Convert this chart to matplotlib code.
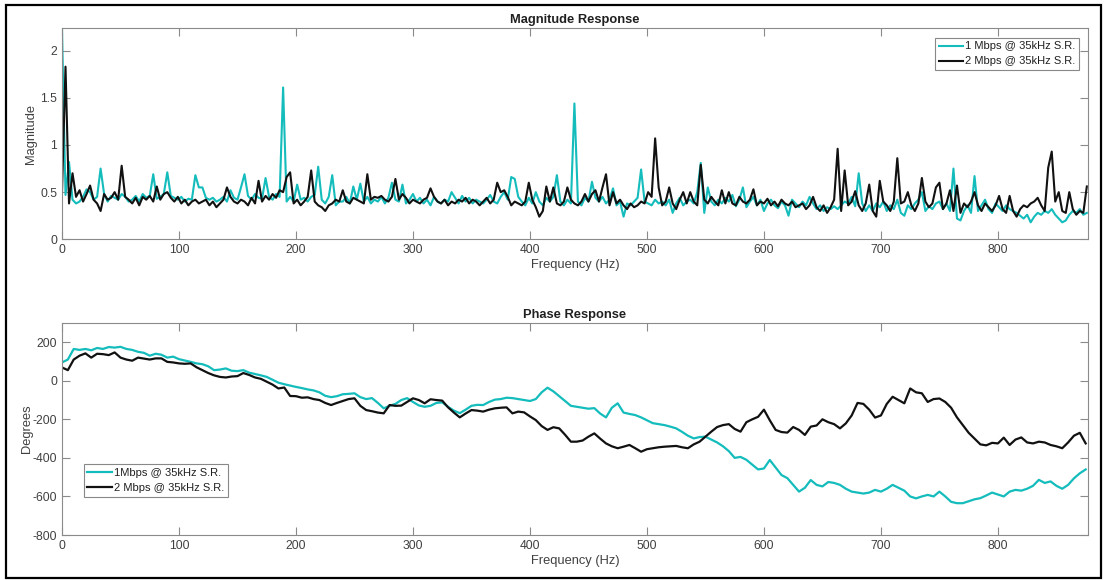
import numpy as np
import matplotlib
matplotlib.use("Agg")
import matplotlib.pyplot as plt
from matplotlib.patches import Rectangle
from matplotlib.ticker import FuncFormatter

plt.rcParams['font.family'] = ['Liberation Sans', 'DejaVu Sans']
plt.rcParams['axes.unicode_minus'] = False

# ---------------- data ----------------
mag_freq = np.arange(0, 877, 3)  # Hz

mag_1mbps = [
    2.22, 0.47, 0.82, 0.42, 0.38, 0.40, 0.45, 0.53, 0.50, 0.42,
    0.45, 0.75, 0.48, 0.40, 0.46, 0.44, 0.42, 0.48, 0.45, 0.40,
    0.42, 0.46, 0.40, 0.48, 0.44, 0.46, 0.69, 0.43, 0.45, 0.48,
    0.71, 0.46, 0.44, 0.42, 0.45, 0.40, 0.43, 0.42, 0.68, 0.55,
    0.55, 0.44, 0.42, 0.44, 0.40, 0.42, 0.45, 0.40, 0.52, 0.44,
    0.42, 0.55, 0.69, 0.46, 0.42, 0.48, 0.44, 0.43, 0.65, 0.45,
    0.42, 0.48, 0.45, 1.61, 0.40, 0.45, 0.40, 0.58, 0.42, 0.44,
    0.40, 0.45, 0.47, 0.77, 0.42, 0.38, 0.45, 0.68, 0.36, 0.40,
    0.40, 0.45, 0.38, 0.56, 0.42, 0.59, 0.40, 0.45, 0.38, 0.42,
    0.40, 0.45, 0.38, 0.44, 0.60, 0.42, 0.40, 0.58, 0.38, 0.42,
    0.48, 0.40, 0.44, 0.38, 0.42, 0.36, 0.45, 0.40, 0.38, 0.42,
    0.40, 0.50, 0.44, 0.38, 0.46, 0.40, 0.44, 0.38, 0.42, 0.40,
    0.38, 0.42, 0.47, 0.40, 0.38, 0.45, 0.50, 0.42, 0.66, 0.64,
    0.45, 0.40, 0.36, 0.44, 0.38, 0.50, 0.40, 0.36, 0.44, 0.40,
    0.45, 0.68, 0.40, 0.36, 0.42, 0.38, 1.44, 0.40, 0.36, 0.44,
    0.40, 0.61, 0.44, 0.40, 0.45, 0.38, 0.42, 0.54, 0.36, 0.40,
    0.24, 0.38, 0.36, 0.40, 0.44, 0.74, 0.40, 0.38, 0.36, 0.42,
    0.38, 0.40, 0.36, 0.42, 0.28, 0.38, 0.44, 0.36, 0.40, 0.42,
    0.38, 0.50, 0.81, 0.28, 0.55, 0.40, 0.36, 0.42, 0.38, 0.44,
    0.40, 0.47, 0.35, 0.42, 0.55, 0.34, 0.40, 0.45, 0.36, 0.42,
    0.30, 0.38, 0.42, 0.36, 0.33, 0.40, 0.36, 0.25, 0.42, 0.38,
    0.34, 0.40, 0.36, 0.45, 0.38, 0.32, 0.36, 0.30, 0.34, 0.32,
    0.35, 0.32, 0.36, 0.40, 0.38, 0.45, 0.35, 0.70, 0.38, 0.30,
    0.36, 0.30, 0.38, 0.34, 0.40, 0.30, 0.36, 0.32, 0.42, 0.28,
    0.25, 0.36, 0.32, 0.38, 0.42, 0.50, 0.30, 0.35, 0.32, 0.38,
    0.40, 0.32, 0.38, 0.30, 0.75, 0.22, 0.20, 0.30, 0.36, 0.28,
    0.67, 0.30, 0.36, 0.42, 0.32, 0.28, 0.38, 0.34, 0.30, 0.36,
    0.32, 0.30, 0.28, 0.25, 0.22, 0.26, 0.18, 0.24, 0.28, 0.26,
    0.30, 0.28, 0.32, 0.26, 0.22, 0.18, 0.20, 0.26, 0.30, 0.28,
    0.32, 0.26, 0.28,
]

mag_2mbps = [
    0.50, 1.83, 0.38, 0.70, 0.45, 0.52, 0.40, 0.48, 0.57, 0.42,
    0.38, 0.30, 0.48, 0.42, 0.44, 0.50, 0.42, 0.78, 0.45, 0.42,
    0.38, 0.44, 0.36, 0.45, 0.42, 0.46, 0.40, 0.56, 0.42, 0.48,
    0.50, 0.44, 0.40, 0.45, 0.38, 0.42, 0.36, 0.40, 0.42, 0.38,
    0.40, 0.42, 0.36, 0.40, 0.34, 0.38, 0.42, 0.55, 0.45, 0.40,
    0.38, 0.42, 0.40, 0.36, 0.44, 0.38, 0.62, 0.40, 0.46, 0.42,
    0.48, 0.44, 0.52, 0.50, 0.66, 0.71, 0.38, 0.42, 0.36, 0.40,
    0.45, 0.73, 0.40, 0.36, 0.34, 0.30, 0.36, 0.38, 0.42, 0.40,
    0.52, 0.40, 0.38, 0.44, 0.42, 0.40, 0.38, 0.69, 0.42, 0.45,
    0.44, 0.46, 0.42, 0.40, 0.45, 0.64, 0.42, 0.48, 0.44, 0.38,
    0.42, 0.40, 0.38, 0.42, 0.44, 0.54, 0.45, 0.40, 0.38, 0.42,
    0.36, 0.40, 0.38, 0.42, 0.40, 0.44, 0.38, 0.42, 0.40, 0.36,
    0.40, 0.44, 0.38, 0.42, 0.60, 0.50, 0.52, 0.45, 0.36, 0.40,
    0.38, 0.36, 0.40, 0.60, 0.42, 0.34, 0.24, 0.30, 0.56, 0.40,
    0.55, 0.38, 0.36, 0.40, 0.55, 0.42, 0.38, 0.36, 0.40, 0.48,
    0.40, 0.48, 0.52, 0.40, 0.55, 0.69, 0.36, 0.50, 0.38, 0.42,
    0.36, 0.32, 0.38, 0.34, 0.36, 0.40, 0.38, 0.50, 0.45, 1.07,
    0.55, 0.36, 0.40, 0.55, 0.38, 0.32, 0.42, 0.50, 0.38, 0.50,
    0.40, 0.36, 0.79, 0.42, 0.38, 0.45, 0.40, 0.36, 0.52, 0.38,
    0.50, 0.38, 0.36, 0.45, 0.40, 0.38, 0.42, 0.53, 0.36, 0.40,
    0.38, 0.43, 0.36, 0.40, 0.35, 0.42, 0.38, 0.36, 0.40, 0.34,
    0.36, 0.38, 0.32, 0.36, 0.45, 0.34, 0.30, 0.36, 0.28, 0.34,
    0.42, 0.96, 0.30, 0.73, 0.36, 0.40, 0.51, 0.36, 0.30, 0.38,
    0.58, 0.30, 0.24, 0.62, 0.40, 0.36, 0.30, 0.40, 0.86, 0.38,
    0.40, 0.50, 0.36, 0.30, 0.38, 0.65, 0.40, 0.34, 0.38, 0.55,
    0.60, 0.32, 0.38, 0.52, 0.30, 0.57, 0.28, 0.38, 0.34, 0.40,
    0.50, 0.36, 0.30, 0.38, 0.34, 0.30, 0.36, 0.46, 0.32, 0.28,
    0.46, 0.30, 0.24, 0.32, 0.36, 0.34, 0.38, 0.40, 0.44, 0.36,
    0.30, 0.76, 0.93, 0.40, 0.50, 0.30, 0.28, 0.50, 0.32, 0.26,
    0.30, 0.28, 0.56,
]

phase_freq = np.arange(0, 876, 5)  # Hz

phase_1mbps = [
    95, 110, 165, 160, 165, 158, 170, 165, 175, 172,
    176, 165, 160, 150, 145, 130, 140, 135, 120, 125,
    112, 105, 98, 90, 86, 75, 55, 58, 64, 52,
    50, 55, 42, 35, 28, 20, 5, -10, -18, -25,
    -32, -38, -45, -50, -60, -78, -85, -80, -70, -68,
    -65, -85, -95, -90, -115, -143, -130, -120, -100, -90,
    -110, -128, -135, -130, -115, -112, -135, -155, -168, -150,
    -130, -125, -126, -110, -98, -95, -88, -90, -95, -100,
    -105, -95, -60, -36, -55, -80, -105, -130, -135, -140,
    -145, -142, -170, -190, -140, -117, -165, -172, -178, -190,
    -205, -220, -225, -230, -238, -247, -265, -285, -299, -292,
    -290, -305, -320, -340, -365, -400, -395, -410, -435, -460,
    -455, -411, -450, -489, -505, -540, -575, -555, -515, -540,
    -548, -525, -530, -540, -560, -575, -580, -585, -580, -566,
    -575, -560, -540, -555, -570, -600, -610, -600, -592, -600,
    -575, -600, -628, -635, -635, -625, -615, -609, -595, -580,
    -590, -600, -575, -566, -570, -560, -545, -514, -530, -522,
    -545, -560, -540, -506, -480, -460,
]

phase_2mbps = [
    69, 55, 110, 130, 142, 120, 140, 138, 133, 147,
    120, 110, 104, 120, 115, 110, 116, 116, 98, 95,
    90, 88, 90, 70, 55, 40, 28, 20, 17, 22,
    24, 40, 30, 17, 10, -5, -20, -40, -35, -79,
    -80, -88, -86, -95, -100, -115, -126, -115, -105, -95,
    -91, -130, -152, -158, -165, -169, -126, -130, -129, -110,
    -91, -100, -117, -96, -100, -103, -138, -165, -190, -170,
    -152, -155, -160, -150, -143, -140, -138, -169, -160, -164,
    -185, -204, -235, -255, -241, -247, -280, -316, -316, -310,
    -290, -273, -300, -325, -340, -350, -342, -333, -350, -368,
    -355, -350, -345, -342, -340, -338, -345, -350, -330, -316,
    -290, -264, -240, -230, -225, -250, -264, -215, -200, -187,
    -150, -205, -255, -266, -269, -240, -255, -281, -238, -232,
    -200, -215, -225, -247, -221, -180, -115, -120, -150, -191,
    -180, -120, -83, -100, -117, -40, -60, -65, -110, -95,
    -92, -110, -140, -190, -230, -270, -300, -330, -335, -322,
    -325, -295, -333, -305, -294, -320, -325, -316, -320, -333,
    -340, -350, -320, -285, -270, -325,
]

mag_xticks = [0, 100, 200, 300, 400, 500, 600, 700, 800]
mag_yticks = [0, 0.5, 1, 1.5, 2]
phase_yticks = [-800, -600, -400, -200, 0, 200]

label_top = ["1 Mbps @ 35kHz S.R.", "2 Mbps @ 35kHz S.R."]
label_bottom = ["1Mbps @ 35kHz S.R.", "2 Mbps @ 35kHz S.R."]

# ---------------- figure ----------------
CYAN = '#14bcbc'
BLACK = '#111111'
SPINE = '#8a8a8a'
TXT = '#404040'

fig = plt.figure(figsize=(11.04, 5.8), dpi=100)
fig.patch.set_facecolor('white')

ax1 = fig.add_axes([62/1104, 1-239.3/580, 1026/1104, 211/580])
ax2 = fig.add_axes([62/1104, 1-535/580, 1026/1104, 211.7/580])

def style(ax):
    for s in ax.spines.values():
        s.set_color(SPINE)
        s.set_linewidth(0.8)
    ax.tick_params(direction='in', length=6, width=0.8, color=SPINE,
                   labelcolor=TXT, labelsize=8.7, top=True, right=True)
    ax.set_xticks(mag_xticks)
    ax.set_xlabel('Frequency (Hz)', fontsize=9.3, color=TXT, labelpad=2)

def make_legend(ax, handles, labels, **kw):
    leg = ax.legend(handles, labels, fontsize=8, frameon=True, fancybox=False,
                    handlelength=2.2, handletextpad=0.15, borderpad=0.35,
                    labelspacing=0.45, borderaxespad=0, **kw)
    leg.get_frame().set_edgecolor('#6a6a6a')
    leg.get_frame().set_linewidth(0.8)
    for t in leg.get_texts():
        t.set_color('#202020')
    return leg

l1, = ax1.plot(mag_freq, mag_1mbps, color=CYAN, lw=1.5)
l2, = ax1.plot(mag_freq, mag_2mbps, color=BLACK, lw=1.5)
ax1.set_xlim(0, 877)
ax1.set_ylim(0, 2.237)
style(ax1)
ax1.set_yticks(mag_yticks)
ax1.yaxis.set_major_formatter(FuncFormatter(lambda v, p: f"{v:g}"))
ax1.set_ylabel('Magnitude', fontsize=9.3, color=TXT, labelpad=2)
ax1.set_title('Magnitude Response', fontsize=9.3, fontweight='bold', color='#202020', pad=4)
make_legend(ax1, [l1, l2], label_top, loc='upper right', bbox_to_anchor=(0.991, 0.956))

m1, = ax2.plot(phase_freq, phase_1mbps, color=CYAN, lw=1.6)
m2, = ax2.plot(phase_freq, phase_2mbps, color=BLACK, lw=1.6)
ax2.set_xlim(0, 877)
ax2.set_ylim(-800, 298)
style(ax2)
ax2.set_yticks(phase_yticks)
ax2.set_ylabel('Degrees', fontsize=9.3, color=TXT, labelpad=0)
ax2.set_title('Phase Response', fontsize=9.3, fontweight='bold', color='#202020', pad=4)
make_legend(ax2, [m1, m2], label_bottom, loc='lower left', bbox_to_anchor=(0.021, 0.18))

# figure frame
fig.add_artist(Rectangle((6/1104, 2/580), 1095/1104, 573/580, transform=fig.transFigure,
                         fill=False, edgecolor='black', linewidth=1.6))

fig.savefig('out.png', dpi=100)
